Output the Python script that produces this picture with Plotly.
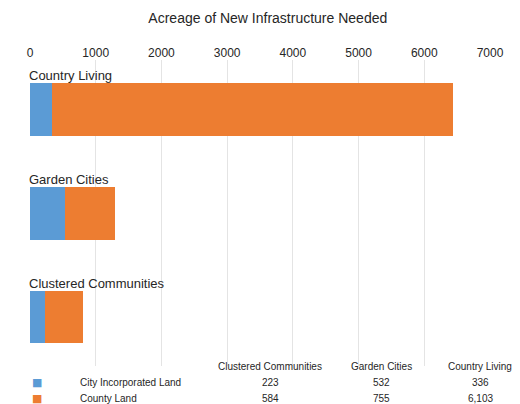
import plotly.graph_objects as go

categories = ["Clustered Communities", "Garden Cities", "Country Living"]
series_names = ["City Incorporated Land", "County Land"]
city_land = [223, 532, 336]
county_land = [584, 755, 6103]
x_ticks = [0, 1000, 2000, 3000, 4000, 5000, 6000, 7000]
colors = ["#5B9BD5", "#ED7D31"]

FONT = "Liberation Sans, Arial, sans-serif"
W, H = 520, 404
L, R, T, B = 30, 30, 60, 38
plot_h = H - T - B
plot_w = W - L - R

ypos = list(range(len(categories)))

fig = go.Figure()
for name, vals, col in zip(series_names, [city_land, county_land], colors):
    fig.add_trace(go.Bar(
        y=ypos, x=vals, orientation="h", name=name,
        marker=dict(color=col, line=dict(width=0)),
        width=0.51, showlegend=False,
    ))

annotations = []
# category labels above bars
for yp, cat in zip(ypos, categories):
    annotations.append(dict(
        x=0, y=yp + 0.325, xref="x", yref="y", text=cat, showarrow=False,
        xanchor="left", yanchor="middle", xshift=-3,
        font=dict(family=FONT, size=13, color="#262626"),
    ))

def px_to_paper_x(px):
    return (px - L) / plot_w

def px_to_paper_y(py):
    return (H - B - py) / plot_h

# data table
col_px = [270, 381, 480]
for cx, cat in zip(col_px, categories):
    annotations.append(dict(
        x=px_to_paper_x(cx), y=px_to_paper_y(366), xref="paper", yref="paper",
        text=cat, showarrow=False, xanchor="center", yanchor="middle",
        font=dict(family=FONT, size=10, color="#262626"),
    ))
row_py = [382, 398]
for ry, name, vals, col in zip(row_py, series_names, [city_land, county_land], colors):
    annotations.append(dict(
        x=px_to_paper_x(30), y=px_to_paper_y(ry), xref="paper", yref="paper",
        text="■", showarrow=False, xanchor="left", yanchor="middle",
        font=dict(family="DejaVu Sans", size=11, color=col),
    ))
    annotations.append(dict(
        x=px_to_paper_x(80), y=px_to_paper_y(ry), xref="paper", yref="paper",
        text=name, showarrow=False, xanchor="left", yanchor="middle", xshift=-2,
        font=dict(family=FONT, size=10, color="#262626"),
    ))
    for cx, v in zip(col_px, vals):
        annotations.append(dict(
            x=px_to_paper_x(cx), y=px_to_paper_y(ry), xref="paper", yref="paper",
            text=f"{v:,}", showarrow=False, xanchor="center", yanchor="middle",
            font=dict(family=FONT, size=10, color="#262626"),
        ))

top_val = 2 + 49.5 / 103.75
bot_val = top_val - plot_h / 103.75

fig.update_layout(
    width=W, height=H,
    margin=dict(l=L, r=R, t=T, b=B),
    paper_bgcolor="white", plot_bgcolor="white",
    barmode="stack",
    title=dict(text="Acreage of New Infrastructure Needed", x=0.515, xanchor="center",
               y=1 - 18 / H, yanchor="middle",
               font=dict(family=FONT, size=14, color="#262626")),
    xaxis=dict(side="top", range=[0, 7000], tickvals=x_ticks,
               ticktext=[str(t) for t in x_ticks],
               showgrid=True, gridcolor="#e4e4e4", gridwidth=1,
               zeroline=False, showline=False, ticks="",
               tickfont=dict(family=FONT, size=12, color="#262626")),
    yaxis=dict(range=[bot_val, top_val], showticklabels=False, showgrid=False,
               zeroline=False, showline=False, ticks=""),
    annotations=annotations,
    font=dict(family=FONT),
)

fig.write_html("out.html")
